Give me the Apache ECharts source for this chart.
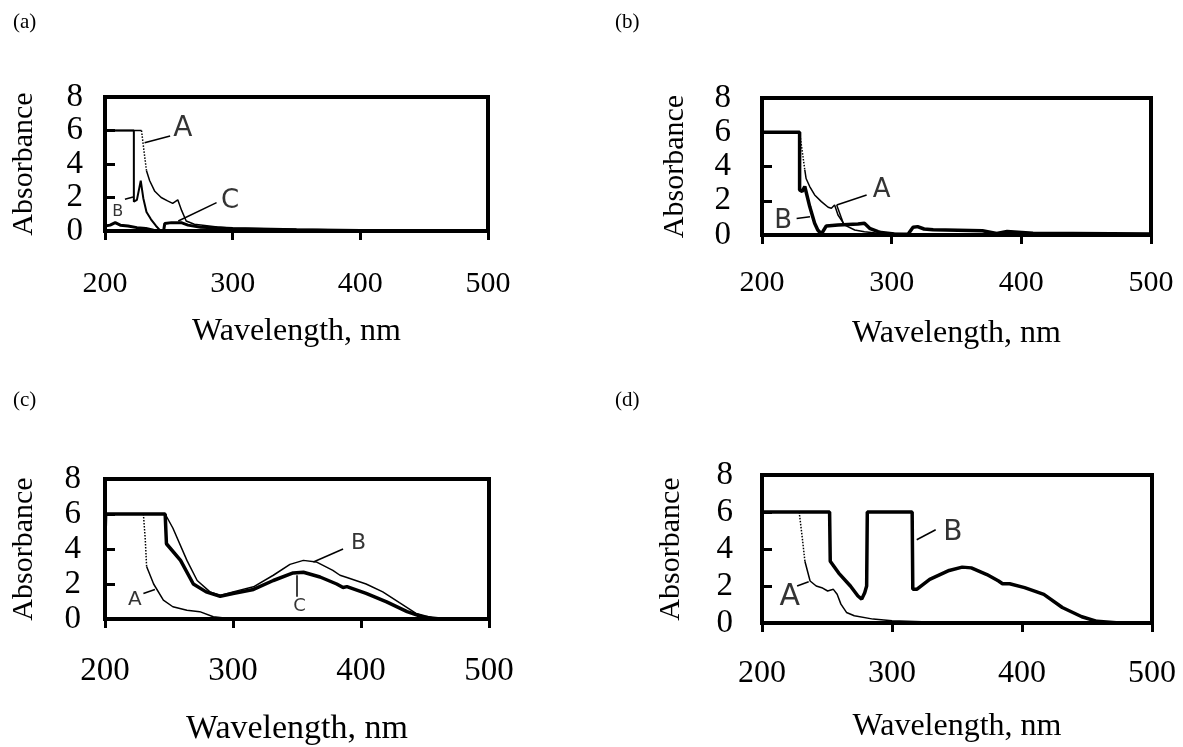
<!DOCTYPE html>
<html><head><meta charset="utf-8">
<script src="https://cdn.jsdelivr.net/npm/echarts@6/dist/echarts.min.js"></script>
<style>html,body{margin:0;padding:0;background:#fff}#c{width:1183px;height:747px}</style>
</head><body><div id="c"></div>
<script>
// ---------- text ----------
const panelLabels = ['(a)', '(b)', '(c)', '(d)'];
const xTitle = 'Wavelength, nm';
const yTitle = 'Absorbance';
const xRange = [200, 500];   // x ticks 200,300,400,500
const yRange = [0, 8];       // y ticks 0,2,4,6,8

// ---------- panel (a) ----------
const aA_flat = [[200, 6], [228.6, 6]];
const aA_dot  = [[228.6, 6], [230.5, 4.8], [232.5, 3.6]];
const aA_tail = [[232.5, 3.6], [235, 3.0], [239, 2.37], [244, 2.0], [249, 1.8], [253, 1.65], [257, 1.86], [260, 1.23], [263.6, 0.6], [270, 0.4], [288, 0.24], [300, 0.17], [350, 0.1], [400, 0.05], [450, 0.02], [500, 0]];
const aB = [[200, 6], [222.6, 6], [222.6, 1.75], [225, 1.86], [228, 3.0], [230, 1.96], [232.5, 1.13], [236, 0.7], [240, 0.3], [243, 0.05], [250, 0.05], [300, 0.03], [400, 0.01], [500, 0]];
const aC = [[200, 0.3], [204, 0.35], [208, 0.5], [212, 0.35], [218, 0.3], [225, 0.2], [232, 0.15], [238, 0.05], [243, 0], [246, 0.05], [246.8, 0.45], [252, 0.5], [259.7, 0.5], [265, 0.35], [275, 0.22], [300, 0.15], [350, 0.08], [400, 0.03], [450, 0.01], [500, 0]];
const aNotes = [
  { t: 'A', at: [261, 6.1], from: [251, 5.67], to: [231, 5.27] },
  { t: 'B', at: [210, 1.15], from: [215.6, 1.9], to: [222, 2.03] },
  { t: 'C', at: [298, 1.8], from: [287.4, 1.69], to: [257.4, 0.6] }
];

// ---------- panel (b) ----------
const bA_flat = [[200, 6], [229, 6]];
const bA_dot  = [[229, 6], [231, 4.9], [233, 3.8]];
const bA_tail = [[233, 3.8], [234, 3.3], [236.8, 2.83], [240.6, 2.34], [245.8, 1.95], [251, 1.62], [253.5, 1.56], [256, 1.75], [258.6, 1.17], [263.8, 0.58], [271.5, 0.29], [279, 0.19], [289.5, 0.1], [320, 0.06], [400, 0.04], [500, 0.02]];
const bB = [[200, 6], [229, 6], [229, 2.63], [231, 2.55], [233, 2.83], [236.8, 1.66], [240.6, 0.68], [243, 0.29], [245.8, 0.06], [249.6, 0.53], [258.6, 0.58], [274, 0.64], [279, 0.68], [283, 0.39], [289.5, 0.2], [292, 0.14], [302, 0.06], [312.6, 0.04], [316.5, 0.45], [320, 0.49], [325, 0.35], [332, 0.3], [370, 0.25], [381, 0.09], [389, 0.2], [409, 0.1], [500, 0.06]];
const bNotes = [
  { t: 'A', at: [292.3, 2.63], from: [280.7, 2.34], to: [257.6, 1.75] },
  { t: '',  at: [262.7, 0.68], from: [257.6, 1.75], to: [262.7, 0.68] },
  { t: 'B', at: [216.3, 0.78], from: [226.7, 0.97], to: [237, 1.07] }
];

// ---------- panel (c) ----------
const cA_flat = [[200, 6], [230, 6]];
const cA_dot  = [[230, 6], [231.5, 4.5], [232.5, 3.0]];
const cA_tail = [[232.5, 3.0], [238, 2.0], [245.6, 1.08], [253, 0.7], [264, 0.5], [274, 0.42], [284.6, 0.13], [295, 0.04], [350, 0.02], [400, 0.01], [500, 0]];
const cB = [[200, 4.7], [200.5, 6], [247, 6], [253, 5.2], [264, 3.35], [272, 2.2], [282, 1.55], [290, 1.35], [300, 1.55], [316, 1.84], [331.5, 2.5], [344.5, 3.12], [355, 3.35], [365, 3.26], [378, 2.78], [383.6, 2.5], [389, 2.37], [404, 2.0], [417, 1.55], [430, 0.93], [443, 0.32], [456.5, 0.06], [472, 0], [500, 0]];
const cC = [[200, 4.7], [200.5, 6], [247, 6], [248, 4.3], [259, 3.35], [269, 2.0], [279, 1.55], [290, 1.3], [300, 1.46], [316, 1.69], [331.5, 2.2], [347, 2.63], [355, 2.67], [368, 2.4], [381, 2.0], [386, 1.8], [389, 1.85], [404, 1.46], [420, 0.98], [436, 0.42], [449, 0.1], [462, 0], [500, 0]];
const cNotes = [
  { t: 'A', at: [223.4, 1.08], from: [230, 1.46], to: [239, 1.69] },
  { t: 'B', at: [398, 4.3], from: [386, 4.0], to: [362.8, 3.26] },
  { t: 'C', at: [352, 0.7], from: [349.7, 1.27], to: [349.7, 2.5] }
];

// ---------- panel (d) ----------
const dA_flat = [[200, 6], [228.6, 6]];
const dA_dot  = [[228.6, 6], [231, 4.6], [233, 3.34]];
const dA_tail = [[233, 3.34], [237, 2.27], [241.7, 2.0], [246, 1.91], [250.5, 1.73], [254.9, 1.82], [257.8, 1.55], [260.7, 1.02], [265, 0.57], [271, 0.39], [285.5, 0.21], [300, 0.125], [329, 0.05], [400, 0.02], [500, 0]];
const dB = [[200, 6], [252, 6], [252.5, 3.34], [259, 2.7], [268, 2.0], [273.8, 1.46], [276.7, 1.29], [279, 1.64], [280.5, 2.0], [281, 6], [315.5, 6], [316, 1.82], [319, 1.82], [329, 2.36], [344, 2.84], [354, 3.02], [361, 2.98], [373, 2.62], [382, 2.27], [385, 2.12], [390.5, 2.12], [402, 1.91], [416.8, 1.55], [431, 0.84], [446, 0.34], [457.7, 0.09], [475, 0], [500, 0]];
const dNotes = [
  { t: 'A', at: [221.3, 1.38], from: [227, 2.0], to: [235.9, 2.23] },
  { t: 'B', at: [346.8, 4.86], from: [333.6, 5.04], to: [319, 4.5] }
];

// ---------- layout & style ----------
const SERIF = 'Liberation Serif';
const HAND = 'DejaVu Sans';
const panels = [
  { grid: { left: 105, top: 97, width: 383, height: 134 }, label: { left: 8, top: 7 },
    xs: 30, xm: 38, ns: 32, ng: 85, ys: 33, ym: 22, yg: 66,
    lines: [[aA_flat, 1.5, 'solid'], [aA_dot, 1.5, 'dotted'], [aA_tail, 1.5, 'solid'], [aB, 2, 'solid'], [aC, 3, 'solid']],
    notes: aNotes, noteSizes: [28, 16, 26] },
  { grid: { left: 762, top: 98, width: 389, height: 137 }, label: { left: 610, top: 7 },
    xs: 30, xm: 33, ns: 32, ng: 83, ys: 33, ym: 31, yg: 72,
    lines: [[bA_flat, 1.5, 'solid'], [bA_dot, 1.5, 'dotted'], [bA_tail, 1.5, 'solid'], [bB, 3.5, 'solid']],
    notes: bNotes, noteSizes: [26, 26, 26] },
  { grid: { left: 105, top: 479, width: 384, height: 141 }, label: { left: 8, top: 385 },
    xs: 33, xm: 36, ns: 34, ng: 93, ys: 33, ym: 24, yg: 66,
    lines: [[cA_flat, 1.5, 'solid'], [cA_dot, 1.5, 'dotted'], [cA_tail, 1.5, 'solid'], [cB, 1.5, 'solid'], [cC, 3.5, 'solid']],
    notes: cNotes, noteSizes: [20, 22, 18] },
  { grid: { left: 762, top: 475, width: 390, height: 148 }, label: { left: 610, top: 385 },
    xs: 32, xm: 35, ns: 32, ng: 88, ys: 33, ym: 29, yg: 76,
    lines: [[dA_flat, 1.5, 'solid'], [dA_dot, 1.5, 'dotted'], [dA_tail, 1.5, 'solid'], [dB, 3.5, 'solid']],
    notes: dNotes, noteSizes: [30, 28] }
];

const option = { animation: false, backgroundColor: '#fff', title: [], grid: [], xAxis: [], yAxis: [], series: [] };

panels.forEach((p, i) => {
  option.title.push({ text: panelLabels[i], left: p.label.left, top: p.label.top,
    textStyle: { fontFamily: SERIF, fontSize: 21, fontWeight: 'normal', color: '#000' } });
  option.grid.push(Object.assign({ show: true, borderColor: '#000', borderWidth: 4, backgroundColor: 'transparent' }, p.grid));
  option.xAxis.push({
    type: 'value', gridIndex: i, min: xRange[0], max: xRange[1], interval: 100,
    name: xTitle, nameLocation: 'middle', nameGap: p.ng,
    nameTextStyle: { fontFamily: SERIF, fontSize: p.ns, color: '#000' },
    axisLine: { show: true, lineStyle: { color: '#000', width: 4 } },
    axisTick: { show: true, length: 9, lineStyle: { color: '#000', width: 3 } },
    splitLine: { show: false },
    axisLabel: { fontFamily: SERIF, fontSize: p.xs, color: '#000', margin: p.xm }
  });
  option.yAxis.push({
    type: 'value', gridIndex: i, min: yRange[0], max: yRange[1], interval: 2,
    name: yTitle, nameLocation: 'middle', nameGap: p.yg, nameRotate: 90,
    nameTextStyle: { fontFamily: SERIF, fontSize: 30, color: '#000' },
    axisLine: { show: true, lineStyle: { color: '#000', width: 4 } },
    axisTick: { show: true, inside: true, length: 10, lineStyle: { color: '#000', width: 3 } },
    splitLine: { show: false },
    axisLabel: { fontFamily: SERIF, fontSize: p.ys, color: '#000', margin: p.ym }
  });
  p.lines.forEach(([data, w, type]) => {
    option.series.push({ type: 'line', xAxisIndex: i, yAxisIndex: i, data: data,
      symbol: 'none', showSymbol: false, silent: true,
      lineStyle: { color: '#000', width: w, type: type }, z: 3 });
  });
  option.series.push({
    type: 'scatter', xAxisIndex: i, yAxisIndex: i, symbolSize: 0, silent: true, z: 4,
    data: p.notes.map((n, k) => ({ value: n.at,
      label: { show: true, position: 'inside', formatter: n.t, fontFamily: HAND, fontSize: p.noteSizes[k], color: '#000' } })),
    markLine: { silent: true, symbol: ['none', 'none'], label: { show: false },
      lineStyle: { color: '#000', width: 1.5, type: 'solid' },
      data: p.notes.map(n => [{ coord: n.from }, { coord: n.to }]) }
  });
});

const chart = echarts.init(document.getElementById('c'), null, { renderer: 'canvas' });
chart.setOption(option);
</script></body></html>
